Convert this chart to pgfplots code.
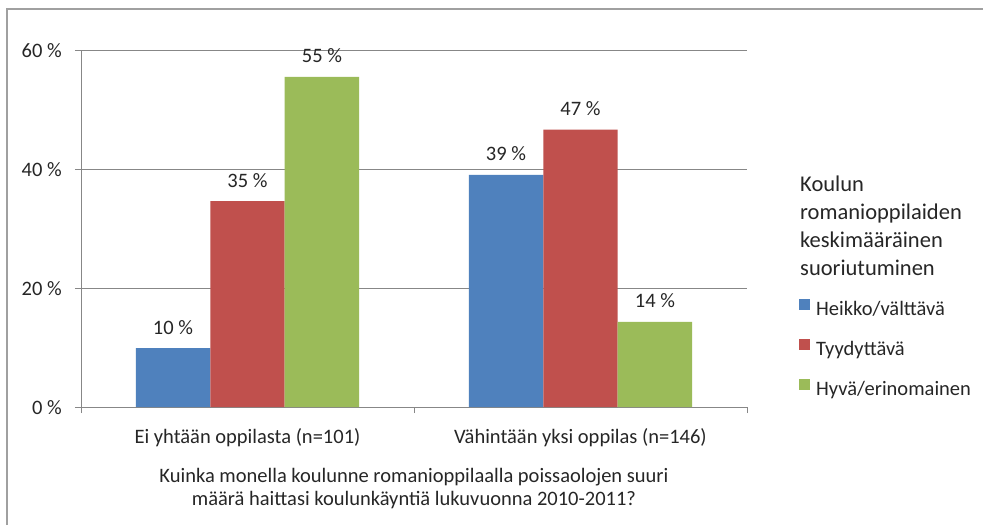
\documentclass[border=0pt]{standalone}
\usepackage{pgfplots}
\pgfplotsset{compat=1.18}
\usepackage{fontspec}
\setmainfont{Carlito}
\definecolor{cblue}{HTML}{4F81BD}
\definecolor{cred}{HTML}{C0504D}
\definecolor{cgreen}{HTML}{9BBB59}
\definecolor{cgrid}{HTML}{878787}
\definecolor{cframe}{HTML}{A0A0A0}
\definecolor{ctext}{HTML}{262626}
\begin{document}
\begin{tikzpicture}[font=\fontsize{20.5}{24}\selectfont]
\useasboundingbox (0,0) rectangle (983pt,525pt);
\fill[white] (0,0) rectangle (983pt,525pt);
\draw[cframe, line width=2pt] (7pt,0) -- (7pt,516pt) -- (983pt,516pt);
\begin{axis}[
  at={(81pt,118pt)}, anchor=south west,
  scale only axis, width=666pt, height=357pt,
  ybar=0pt, bar width=0.2237,
  xmin=-0.5, xmax=1.5, ymin=0, ymax=60,
  axis x line*=bottom, axis y line*=left,
  axis line style={cgrid, line width=1pt},
  tick align=outside, major tick length=6pt,
  tick style={cgrid, line width=1pt},
  xtick={-0.5,0.5,1.5},
  x tick label as interval,
  xticklabels={Ei yhtään oppilasta (n=101),Vähintään yksi oppilas (n=146)},
  ytick={0,20,40,60},
  yticklabels={0 \%,20 \%,40 \%,60 \%},
  ymajorgrids, major grid style={cgrid, line width=1pt},
  xticklabel style={anchor=base, inner sep=0pt, yshift=-30pt, text=ctext},
  yticklabel style={anchor=base east, inner sep=0pt, xshift=-13pt, yshift=-7pt, text=ctext},
  xlabel={Kuinka monella koulunne romanioppilaalla poissaolojen suuri\\määrä haittasi koulunkäyntiä lukuvuonna 2010-2011?},
  xlabel style={align=center, anchor=north, inner sep=0pt, at={(axis description cs:0.5,-0.172)}, text=ctext, font=\fontsize{20.5}{22.5}\selectfont},
  point meta=explicit symbolic,
  nodes near coords,
  every node near coord/.append style={anchor=base, inner sep=0pt, yshift=14pt, text=ctext},
  legend image code/.code={\fill[#1] (0pt,1pt) rectangle (11pt,12pt);},
  legend style={draw=none, fill=none, at={(axis description cs:1.078,0.1597)}, anchor=west,
    inner sep=0pt, row sep=18pt, column sep=6pt,
    nodes={inner sep=0pt, text height=15pt, text depth=5pt, text=ctext}},
  legend cell align=left,
]
\addplot[fill=cblue, draw=none] coordinates {(0,9.9) [10 \%] (1,39.0) [39 \%]};
\addplot[fill=cred, draw=none] coordinates {(0,34.6) [35 \%] (1,46.6) [47 \%]};
\addplot[fill=cgreen, draw=none] coordinates {(0,55.5) [55 \%] (1,14.3) [14 \%]};
\legend{Heikko/välttävä,Tyydyttävä,Hyvä/erinomainen}
\end{axis}
\begin{scope}[every node/.style={anchor=base west, inner sep=0pt, text=ctext, font=\fontsize{22.5}{26}\selectfont}]
\node at (800pt,333pt) {Koulun};
\node at (800pt,305pt) {romanioppilaiden};
\node at (800pt,277pt) {keskimääräinen};
\node at (800pt,249pt) {suoriutuminen};
\end{scope}
\end{tikzpicture}
\end{document}
